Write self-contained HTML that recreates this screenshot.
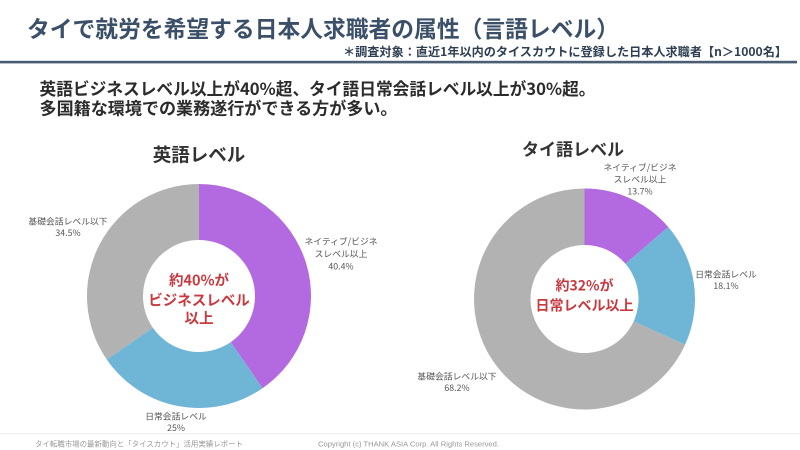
<!DOCTYPE html>
<html>
<head>
<meta charset="utf-8">
<style>
html,body{margin:0;padding:0;background:#fff;}
svg{display:block;}
text{font-family:"Liberation Sans","Noto Sans CJK JP",sans-serif;}
.jp{font-family:"Noto Sans CJK JP","Liberation Sans",sans-serif;}
</style>
</head>
<body>
<svg width="800" height="450" viewBox="0 0 800 450" xmlns="http://www.w3.org/2000/svg">
<rect width="800" height="450" fill="#fff"/>
<!-- header -->
<text class="jp" x="27" y="37" font-size="23" font-weight="700" fill="#3b5068" textLength="592" lengthAdjust="spacingAndGlyphs">タイで就労を希望する日本人求職者の属性（言語レベル）</text>
<text class="jp" x="787" y="56" font-size="12" font-weight="700" fill="#2f3f52" text-anchor="end" textLength="444" lengthAdjust="spacingAndGlyphs">＊調査対象：直近1年以内のタイスカウトに登録した日本人求職者【n＞1000名】</text>
<rect x="0" y="60.8" width="797" height="2.6" fill="#4a5d73"/>

<!-- body headline -->
<text class="jp" x="39.5" y="95" font-size="17" font-weight="700" fill="#2b2b2b" textLength="556" lengthAdjust="spacingAndGlyphs">英語ビジネスレベル以上が40%超、タイ語日常会話レベル以上が30%超。</text>
<text class="jp" x="39.5" y="114.5" font-size="17" font-weight="700" fill="#2b2b2b" textLength="358" lengthAdjust="spacingAndGlyphs">多国籍な環境での業務遂行ができる方が多い。</text>

<!-- chart titles -->
<text class="jp" x="199" y="161.5" font-size="18.5" font-weight="700" fill="#333" text-anchor="middle">英語レベル</text>
<text class="jp" x="573" y="155.5" font-size="17" font-weight="700" fill="#333" text-anchor="middle">タイ語レベル</text>

<!-- English donut -->
<path d="M199,184 A112,112 0 0 1 262.53,388.24 L230.76,342.12 A56,56 0 0 0 199,240 Z" fill="#b36ae0"/>
<path d="M262.53,388.24 A112,112 0 0 1 106.76,359.53 L152.88,327.76 A56,56 0 0 0 230.76,342.12 Z" fill="#6fb5d6"/>
<path d="M106.76,359.53 A112,112 0 0 1 199,184 L199,240 A56,56 0 0 0 152.88,327.76 Z" fill="#b2b2b2"/>

<!-- Thai donut -->
<path d="M584.5,188.5 A110.5,110.5 0 0 1 668.26,226.94 L625.43,263.79 A54,54 0 0 0 584.5,245 Z" fill="#b36ae0"/>
<path d="M668.26,226.94 A110.5,110.5 0 0 1 685.07,344.78 L633.65,321.37 A54,54 0 0 0 625.43,263.79 Z" fill="#6fb5d6"/>
<path d="M685.07,344.78 A110.5,110.5 0 1 1 584.5,188.5 L584.5,245 A54,54 0 1 0 633.65,321.37 Z" fill="#b2b2b2"/>

<!-- center texts -->
<g class="jp" font-weight="700" fill="#c73a40" text-anchor="middle" font-size="14.5">
<text class="jp" x="199" y="285.5">約40%が</text>
<text class="jp" x="199" y="305.5">ビジネスレベル</text>
<text class="jp" x="199" y="323.5">以上</text>
<text class="jp" x="584.5" y="290.5" font-size="14">約32%が</text>
<text class="jp" x="584.5" y="310.5" font-size="14">日常レベル以上</text>
</g>

<!-- labels -->
<g fill="#555" font-size="8.8" text-anchor="middle">
<text class="jp" x="341" y="244.5">ネイティブ/ビジネ</text>
<text class="jp" x="341" y="257">スレベル以上</text>
<text class="jp" x="341" y="269.5">40.4%</text>
<text class="jp" x="68" y="224.5">基礎会話レベル以下</text>
<text class="jp" x="68" y="236">34.5%</text>
<text class="jp" x="176" y="419.5">日常会話レベル</text>
<text class="jp" x="176" y="431">25%</text>

<text class="jp" x="640" y="170.5">ネイティブ/ビジネ</text>
<text class="jp" x="640" y="182.5">スレベル以上</text>
<text class="jp" x="640" y="194.5">13.7%</text>
<text class="jp" x="726" y="277.5">日常会話レベル</text>
<text class="jp" x="726" y="289">18.1%</text>
<text class="jp" x="457" y="379.5">基礎会話レベル以下</text>
<text class="jp" x="457" y="391">68.2%</text>
</g>

<!-- footer -->
<rect x="0" y="433" width="800" height="1" fill="#ececec"/>
<text class="jp" x="35" y="446.5" font-size="7.6" fill="#999" textLength="208" lengthAdjust="spacingAndGlyphs">タイ転職市場の最新動向と「タイスカウト」活用実績レポート</text>
<text x="318" y="446.5" font-size="7.6" fill="#999" textLength="181" lengthAdjust="spacingAndGlyphs">Copyright (c) THANK ASIA Corp. All Rights Reserved.</text>
</svg>
</body>
</html>
